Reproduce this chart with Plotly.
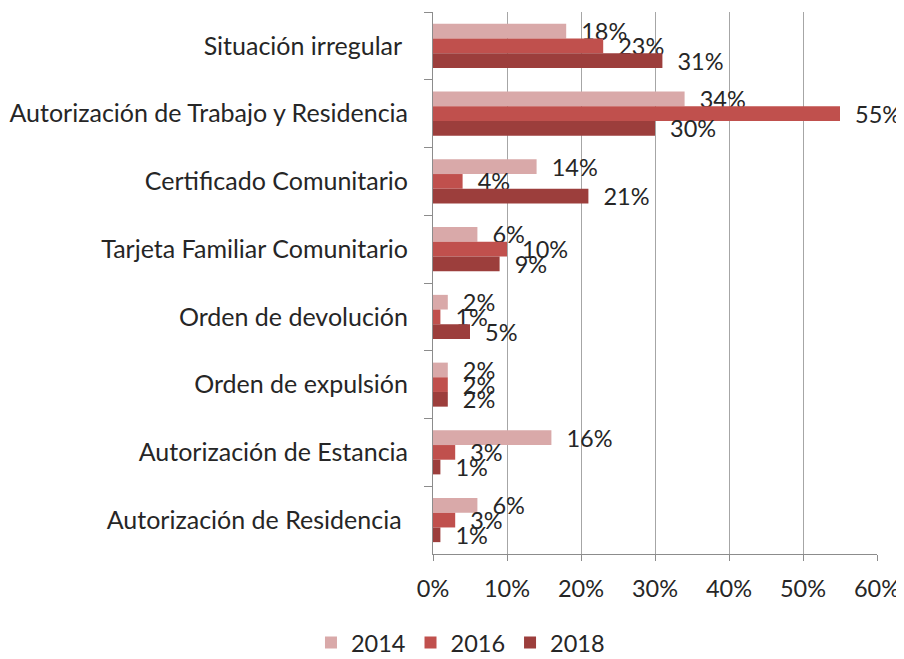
import plotly.graph_objects as go

categories = [
    "Situación irregular\u00a0",
    "Autorización de Trabajo y Residencia",
    "Certificado Comunitario",
    "Tarjeta Familiar Comunitario",
    "Orden de devolución",
    "Orden de expulsión",
    "Autorización de Estancia",
    "Autorización de Residencia\u00a0",
]
years = ["2014", "2016", "2018"]
v2014 = [18, 34, 14, 6, 2, 2, 16, 6]
v2016 = [23, 55, 4, 10, 1, 2, 3, 3]
v2018 = [31, 30, 21, 9, 5, 2, 1, 1]
x_ticks = [0, 10, 20, 30, 40, 50, 60]

colors = ["#D9A9A9", "#C0504D", "#9C3E3C"]
FONT = "Lato, 'Open Sans', sans-serif"
TXT = "#262626"

fig = go.Figure()
for name, vals, col in zip(years, [v2014, v2016, v2018], colors):
    fig.add_trace(go.Bar(
        name=name, y=categories, x=vals, orientation="h",
        marker=dict(color=col, line=dict(width=0)),
        text=[f"{v}%" for v in vals],
        texttemplate="\u00a0\u00a0%{text}",
        textposition="outside",
        constraintext="none",
        cliponaxis=False,
        textfont=dict(family=FONT, size=23.5, color=TXT),
        hoverinfo="skip",
    ))

# page body has an 8px default margin, so the figure is sized to fit inside it
fig.update_layout(
    barmode="group",
    bargap=0.35,
    bargroupgap=0,
    width=896, height=651,
    margin=dict(l=425, r=27, t=4, b=105, autoexpand=False),
    paper_bgcolor="white", plot_bgcolor="white",
    font=dict(family=FONT, size=23.5, color=TXT),
    showlegend=True,
    legend=dict(
        orientation="h", xref="container", yref="container",
        x=0.505, xanchor="center", y=0.025, yanchor="middle",
        font=dict(family=FONT, size=23.5, color=TXT),
        itemwidth=30, traceorder="normal",
    ),
)
fig.update_xaxes(
    range=[0, 60], tickvals=x_ticks, ticktext=[f"{t}%" for t in x_ticks],
    showgrid=True, gridcolor="#A6A6A6", gridwidth=1,
    showline=True, linecolor="#8C8C8C", linewidth=1,
    ticks="outside", ticklen=6, tickcolor="#8C8C8C",
    ticklabelstandoff=8,
    zeroline=False, fixedrange=True, automargin=False,
    tickfont=dict(family=FONT, size=23.5, color=TXT),
)
fig.update_yaxes(
    autorange="reversed", type="category",
    showline=True, linecolor="#8C8C8C", linewidth=1,
    ticks="outside", ticklen=8, tickcolor="#8C8C8C", tickson="boundaries",
    ticklabelstandoff=19,
    showgrid=False, zeroline=False, fixedrange=True, automargin=False,
    tickfont=dict(family=FONT, size=25, color=TXT),
)

fig.write_html("out.html")
